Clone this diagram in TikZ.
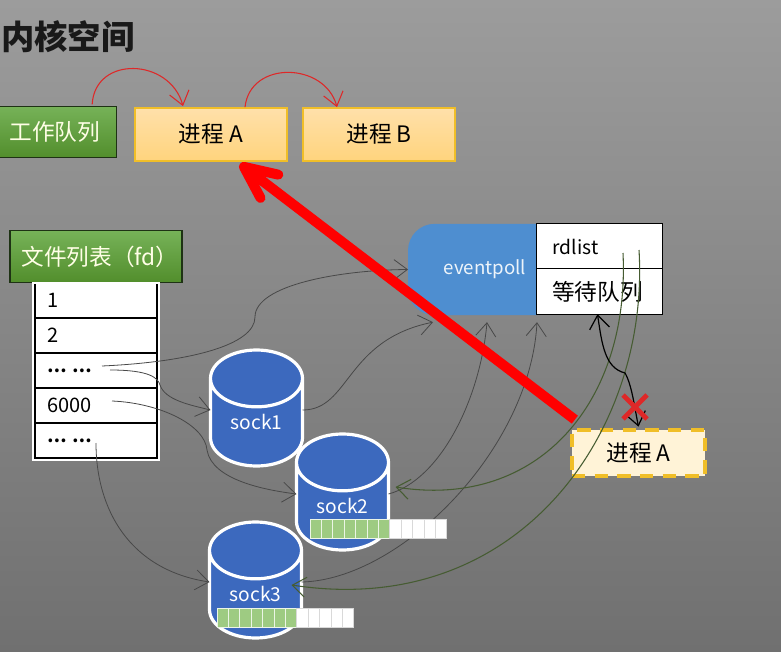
\documentclass[tikz,border=0pt]{standalone}
\usepackage{fontspec}
\setmainfont{Noto Sans CJK SC}
\usetikzlibrary{shapes.geometric, shapes.misc, arrows.meta, positioning, calc}
\definecolor{bgtop}{RGB}{156,156,156}
\definecolor{bgbot}{RGB}{112,112,112}
\definecolor{leaftop}{RGB}{118,178,88}
\definecolor{leafgreen}{RGB}{82,142,44}
\definecolor{leafline}{RGB}{30,50,20}
\definecolor{goldline}{RGB}{240,190,40}
\definecolor{proctop}{RGB}{255,224,170}
\definecolor{procbot}{RGB}{255,212,125}
\definecolor{sleepfill}{RGB}{255,243,215}
\definecolor{sockblue}{RGB}{60,105,190}
\definecolor{pollblue}{RGB}{78,142,208}
\definecolor{cellgreen}{RGB}{158,203,130}
\definecolor{olive}{RGB}{70,92,50}
\definecolor{thingray}{RGB}{72,72,72}
\definecolor{redline}{RGB}{222,40,40}

\begin{document}
\begin{tikzpicture}[
        x=0.75pt, y=-0.75pt,
        greenbox/.style={rectangle, draw=leafline, line width=1pt, top color=leaftop, bottom color=leafgreen, text=white!90!yellow, font=\fontsize{17}{19}\selectfont, minimum height=38.5pt, inner sep=0pt, outer sep=0pt},
        procbox/.style={rectangle, draw=goldline, line width=1.2pt, top color=proctop, bottom color=procbot, font=\fontsize{17}{19}\selectfont, minimum width=114pt, minimum height=39.5pt, inner sep=0pt, outer sep=0pt},
        fdrow/.style={rectangle, draw=black, fill=white, line width=0.9pt, minimum width=91.5pt, minimum height=26.2pt, text width=73.5pt, align=left, font=\fontsize{15}{17}\selectfont, inner sep=0pt, outer sep=0pt},
        rdrow/.style={rectangle, draw=black, fill=white, line width=0.9pt, minimum width=95pt, minimum height=34pt, inner sep=0pt, outer sep=0pt},
        sockcyl/.style={cylinder, shape border rotate=90, aspect=1.1, anchor=shape center, draw=white, fill=sockblue, line width=2.4pt, minimum width=69pt, minimum height=87pt, text=white, font=\fontsize{14.4}{16}\selectfont, inner sep=0pt, outer sep=0pt},
        fdlink/.style={draw=thingray, line width=0.6pt, -{Straight Barb[length=10pt,width=15pt,line width=0.6pt]}},
        rdlink/.style={draw=olive, line width=0.8pt, -{Straight Barb[length=10pt,width=15pt,line width=0.8pt]}},
        hoplink/.style={draw=redline, line width=0.8pt, -{Straight Barb[length=10pt,width=15pt,line width=0.8pt]}},
        greencell/.style={rectangle, draw=white!80!cellgreen, fill=cellgreen, line width=0.5pt, minimum width=8.55pt, minimum height=14pt, inner sep=0pt, outer sep=0pt},
        whitecell/.style={greencell, draw=black!15, fill=white}
    ]
    \useasboundingbox (0,0) rectangle (781,652);
    \shade[top color=bgtop, bottom color=bgbot] (0,0) rectangle (781,652);

    % kernel side
    \node[anchor=west, font=\fontsize{25}{28}\selectfont\bfseries, text=black!90, inner sep=0pt] (title) at (1,37) {内核空间};
    \node[greenbox, minimum width=88pt] (workq) at (57.5,132) {工作队列\hspace*{4pt}};
    \node[procbox] (proca) at (211,134.5) {进程 A};
    \node[procbox] (procb) at (379,134.5) {进程 B};
    \draw[hoplink] ([shift={(-24,-2)}]workq.north east) .. controls (95,55) and (170,58) .. ([shift={(-28,-2)}]proca.north);
    \draw[hoplink] ([shift={(34,-1)}]proca.north) .. controls (250,60) and (325,62) .. ([shift={(-42,-1)}]procb.north);

    % file list
    \node[greenbox, minimum width=129pt] (fdhead) at (96,256.5) {\hspace*{6pt}文件列表（fd）};
    \node[fdrow] (row1) at (96,300.5) {1};
    \node[fdrow] (row2) at (96,335.5) {2};
    \node[fdrow, font=\fontsize{13}{15}\selectfont\bfseries] (row3) at (96,370.5) {… …};
    \node[fdrow] (row4) at (96,405.5) {6000};
    \node[fdrow, font=\fontsize{13}{15}\selectfont\bfseries] (row5) at (96,440.5) {… …};
    \draw[white, line width=1pt] ([shift={(-2,0)}]row1.north west) rectangle ([shift={(2,2)}]row5.south east);

    % eventpoll
    \node[rectangle, fill=pollblue, rounded corners=20pt, minimum width=115.5pt, minimum height=68.5pt, text=white!90!pollblue, font=\fontsize{14}{16}\selectfont, inner sep=0pt, outer sep=0pt] (evpoll) at (485,269.5) {eventpoll};
    \node[rdrow] (rdlist) at (599.5,246.5) {\hspace*{-36pt}\fontsize{14.4}{16}\selectfont rdlist};
    \node[rdrow] (waitq) at (599.5,291.5) {\fontsize{17}{19}\selectfont 等待队列\hspace*{3pt}};

    % sockets
    \node[sockcyl] (sock1) at (256.5,408) {\raisebox{2pt}{sock1}};
    \node[sockcyl] (sock2) at (342.5,492) {\raisebox{2pt}{sock2}};
    \node[sockcyl] (sock3) at (255.5,580) {\raisebox{2pt}{sock3}};

    \node[rectangle, draw=goldline, dashed, dash pattern=on 10pt off 7pt, line width=3pt, fill=sleepfill, minimum width=100pt, minimum height=35pt, font=\fontsize{17}{19}\selectfont, inner sep=0pt, outer sep=0pt] (sleeper) at (638.5,453) {进程 A};

    % links
    \coordinate (from3a) at (102,366);
    \coordinate (from3b) at (110,370);
    \coordinate (from4) at (112,401);
    \coordinate (from5) at (96,443);
    \coordinate (readya) at (623,253);
    \coordinate (readyb) at (639,250);
    \draw[fdlink] (from3a) .. controls (190,362) and (255,345) .. (255,317) .. controls (255,285) and (340,270) .. (evpoll.west);
    \draw[fdlink] (from3b) .. controls (150,370) and (158,378) .. (160,385) .. controls (165,400) and (190,405) .. ([shift={(0,-13)}]sock1.west);
    \draw[fdlink] (from4) .. controls (160,403) and (205,425) .. (207,450) .. controls (212,480) and (265,490) .. ([shift={(0,-13)}]sock2.west);
    \draw[fdlink] (from5) .. controls (96,510) and (130,570) .. ([shift={(0,-13)}]sock3.west);
    \draw[fdlink] ([shift={(0,-13)}]sock1.east) .. controls (350,410) and (345,340) .. ([shift={(-52,7)}]evpoll.south);
    \draw[fdlink] ([shift={(0,-13)}]sock2.east) .. controls (440,480) and (480,400) .. ([shift={(2,7)}]evpoll.south);
    \draw[fdlink] ([shift={(0,-13)}]sock3.east) .. controls (400,580) and (530,450) .. ([shift={(52,7)}]evpoll.south);
    \draw[rdlink] (readya) .. controls (630,400) and (540,510) .. ([shift={(7,-20)}]sock2.east);
    \draw[rdlink] (readyb) .. controls (650,430) and (520,620) .. ([shift={(-10,-10)}]sock3.east);
    \draw[draw=black, line width=0.9pt, {Straight Barb[length=10pt,width=15pt,line width=0.9pt]}-{Straight Barb[length=10pt,width=15pt,line width=0.9pt]}] ([shift={(-2,0)}]waitq.south) .. controls (602,345) and (605,368) .. (625,373) .. controls (632,385) and (635,410) .. ([shift={(0,-3)}]sleeper.north);
    \node[cross out, draw=redline, line width=3.6pt, minimum width=18pt, minimum height=18pt, inner sep=0pt, outer sep=0pt] (nolink) at (635,407) {};

    % receive buffers
    \foreach \i in {0,...,6} {
        \node[greencell] (bufb\i) at (315.7+11.4*\i,528.5) {};
        \node[greencell] (bufc\i) at (222.7+11.4*\i,617.5) {};
    }
    \foreach \i in {7,...,11} {
        \node[whitecell] (bufb\i) at (315.7+11.4*\i,528.5) {};
        \node[whitecell] (bufc\i) at (222.7+11.4*\i,617.5) {};
    }

    % wake up
    \draw[draw=red, line width=7.5pt, -{Straight Barb[round, length=24pt, width=22pt, line width=7.5pt]}] ([shift={(3,-10)}]sleeper.north west) -- ([shift={(29,3)}]proca.south);
\end{tikzpicture}
\end{document}
